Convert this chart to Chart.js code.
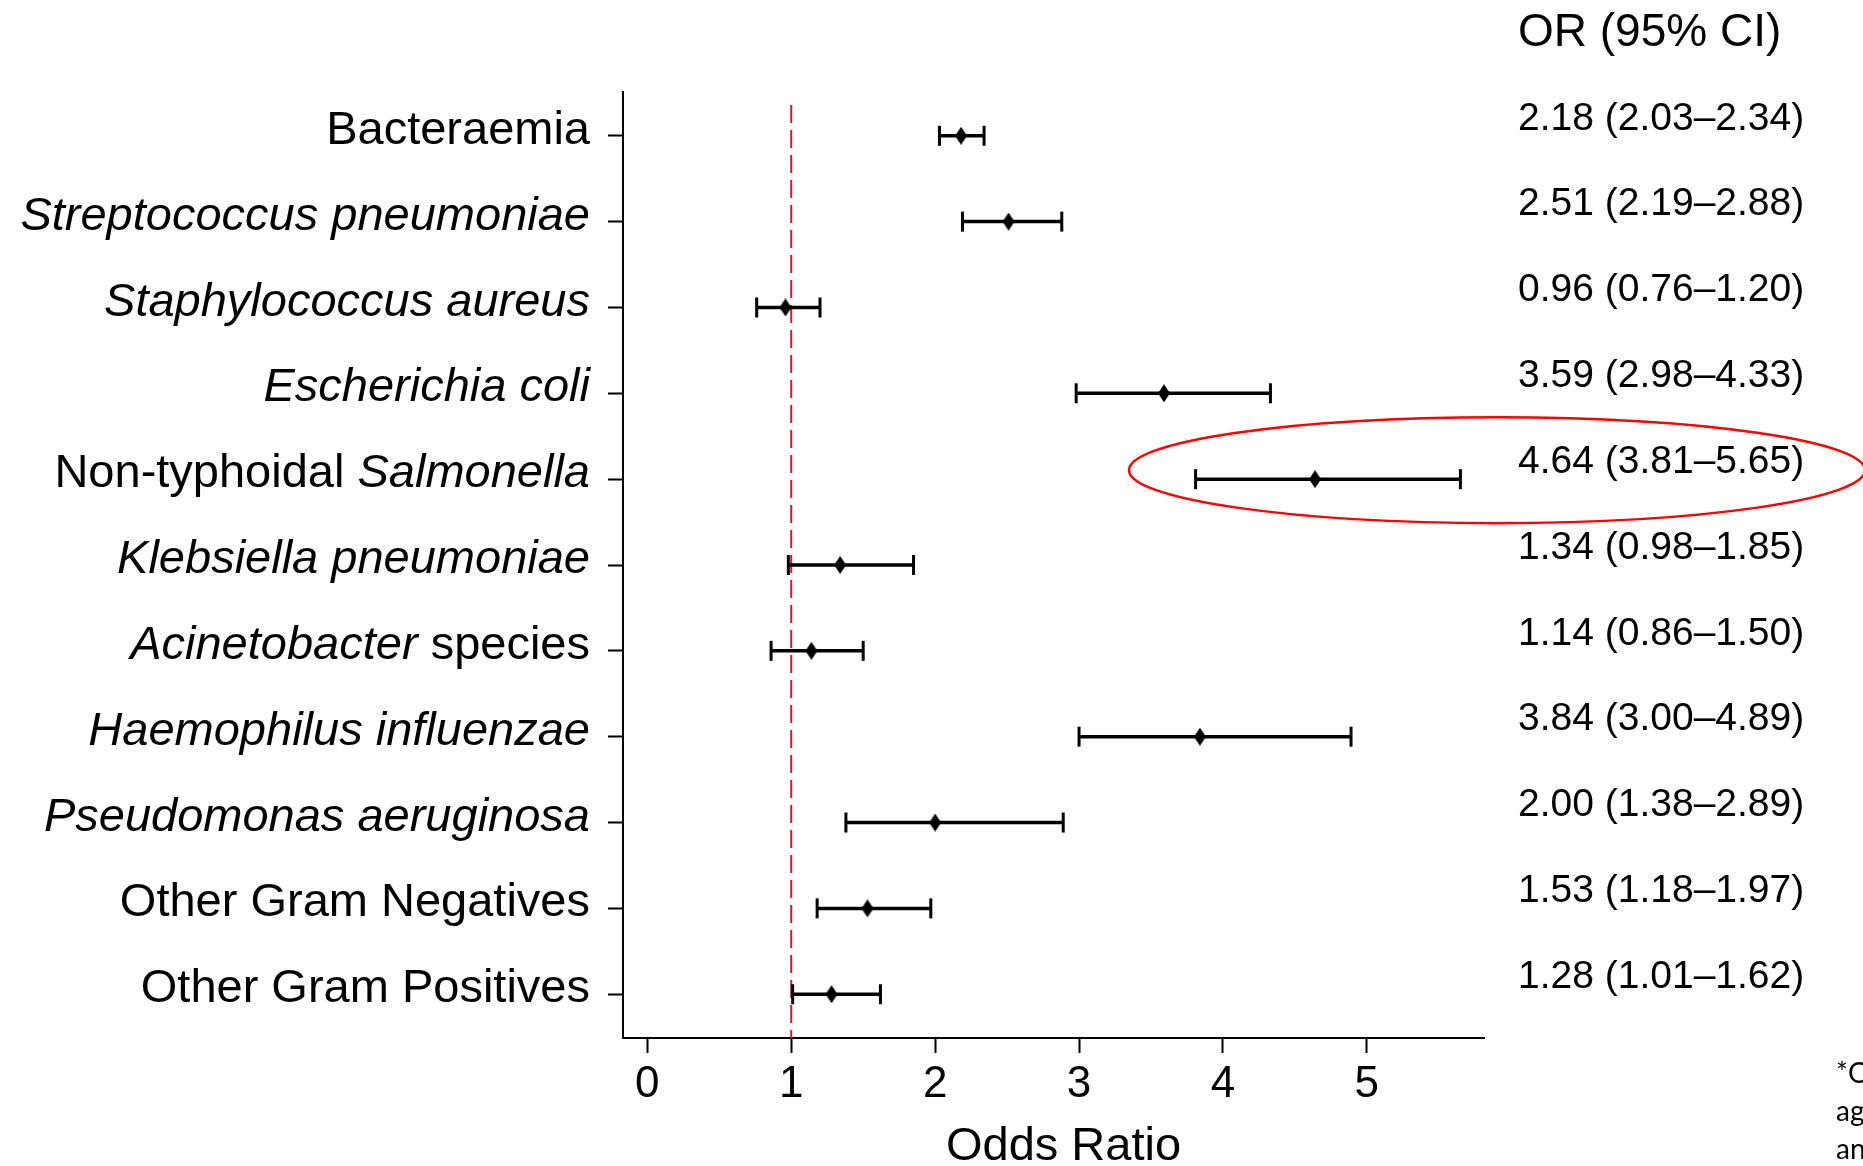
<!DOCTYPE html>
<html>
<head>
<meta charset="utf-8">
<script src="https://cdn.jsdelivr.net/npm/chart.js@4.4.0/dist/chart.umd.min.js"></script>
<style>
  html, body { margin: 0; padding: 0; background: #ffffff; overflow: hidden; }
  #wrap { width: 1863px; height: 1166px; position: relative; }
</style>
</head>
<body>
<div id="wrap"><canvas id="forest" width="1863" height="1166"></canvas></div>
<script>
// Pathogen groups; text between asterisks is set in italics
const categories = [
  'Bacteraemia',
  '*Streptococcus pneumoniae*',
  '*Staphylococcus aureus*',
  '*Escherichia coli*',
  'Non-typhoidal *Salmonella*',
  '*Klebsiella pneumoniae*',
  '*Acinetobacter* species',
  '*Haemophilus influenzae*',
  '*Pseudomonas aeruginosa*',
  'Other Gram Negatives',
  'Other Gram Positives'
];
const oddsRatio = [2.18, 2.51, 0.96, 3.59, 4.64, 1.34, 1.14, 3.84, 2.00, 1.53, 1.28];
const ciLower   = [2.03, 2.19, 0.76, 2.98, 3.81, 0.98, 0.86, 3.00, 1.38, 1.18, 1.01];
const ciUpper   = [2.34, 2.88, 1.20, 4.33, 5.65, 1.85, 1.50, 4.89, 2.89, 1.97, 1.62];
const xTicks = [0, 1, 2, 3, 4, 5];
const referenceOR = 1;
const highlightRow = 4;
const columnHeader = 'OR (95% CI)';
const axisTitle = 'Odds Ratio';
const footnoteLines = ['*Odds ratios adjusted for', 'age, sex, year', 'and site'];

const FONT = '"Liberation Sans", Arial, Helvetica, sans-serif';

// Diamond marker for the point estimates (taller than wide)
const diamond = document.createElement('canvas');
diamond.width = 12;
diamond.height = 18;
(function () {
  const g = diamond.getContext('2d');
  g.fillStyle = '#000000';
  g.beginPath();
  g.moveTo(6, 0);
  g.lineTo(12, 9);
  g.lineTo(6, 18);
  g.lineTo(0, 9);
  g.closePath();
  g.fill();
})();

// Confidence-interval segments, separated by gaps
const whiskers = [];
categories.forEach((_, i) => {
  whiskers.push({ x: ciLower[i], y: i }, { x: ciUpper[i], y: i }, { x: ciUpper[i], y: null });
});
const caps = [];
categories.forEach((_, i) => {
  caps.push({ x: ciLower[i], y: i }, { x: ciUpper[i], y: i });
});
const estimates = oddsRatio.map((v, i) => ({ x: v, y: i }));

function fmt(v) { return v.toFixed(2); }
const orLabels = oddsRatio.map((v, i) => `${fmt(v)} (${fmt(ciLower[i])}\u2013${fmt(ciUpper[i])})`);

function segments(label) {
  const parts = label.split('*');
  return parts.map((t, k) => ({ text: t, italic: k % 2 === 1 })).filter(p => p.text.length);
}

// Category names on the left, allowing mixed italic / upright text
const categoryLabels = {
  id: 'categoryLabels',
  afterDraw(chart) {
    const { ctx, scales: { y } } = chart;
    const rightEdge = y.right - 33;
    ctx.save();
    ctx.fillStyle = '#000000';
    ctx.textBaseline = 'middle';
    ctx.textAlign = 'left';
    categories.forEach((label, i) => {
      const segs = segments(label);
      const py = y.getPixelForValue(i) - 5;
      let total = 0;
      segs.forEach(s => {
        ctx.font = `${s.italic ? 'italic ' : ''}47px ${FONT}`;
        s.w = ctx.measureText(s.text).width;
        total += s.w;
      });
      let px = rightEdge - total;
      segs.forEach(s => {
        ctx.font = `${s.italic ? 'italic ' : ''}47px ${FONT}`;
        ctx.fillText(s.text, px, py);
        px += s.w;
      });
    });
    ctx.restore();
  }
};

// OR (95% CI) column on the right
const orColumn = {
  id: 'orColumn',
  afterDraw(chart) {
    const { ctx, scales: { y } } = chart;
    const left = 1518;
    ctx.save();
    ctx.fillStyle = '#000000';
    ctx.textAlign = 'left';
    ctx.textBaseline = 'middle';
    ctx.font = `46px ${FONT}`;
    ctx.fillText(columnHeader, left, 33);
    ctx.font = `39px ${FONT}`;
    orLabels.forEach((t, i) => {
      ctx.fillText(t, left, y.getPixelForValue(i) - 17);
    });
    ctx.restore();
  }
};

// Axis title under the odds-ratio scale
const axisTitlePlugin = {
  id: 'axisTitle',
  afterDraw(chart) {
    const { ctx, scales: { x } } = chart;
    ctx.save();
    ctx.fillStyle = '#000000';
    ctx.textAlign = 'center';
    ctx.textBaseline = 'middle';
    ctx.font = `47px ${FONT}`;
    ctx.fillText(axisTitle, (x.left + x.right) / 2 + 10, x.bottom - 19);
    ctx.restore();
  }
};

// Red ellipse highlighting one row and its estimate
const highlight = {
  id: 'highlight',
  afterDraw(chart) {
    const { ctx, scales: { y } } = chart;
    const cy = y.getPixelForValue(highlightRow) - 9;
    ctx.save();
    ctx.strokeStyle = '#ff0000';
    ctx.lineWidth = 2.5;
    ctx.beginPath();
    ctx.ellipse(1497, cy, 368, 53, 0, 0, Math.PI * 2);
    ctx.stroke();
    ctx.restore();
  }
};

// Footnote in the lower-right corner
const footnote = {
  id: 'footnote',
  afterDraw(chart) {
    const { ctx } = chart;
    ctx.save();
    ctx.fillStyle = '#000000';
    ctx.textAlign = 'left';
    ctx.textBaseline = 'middle';
    ctx.font = `28px Lato, "Open Sans", sans-serif`;
    footnoteLines.forEach((t, i) => ctx.fillText(t, 1836, 1074 + i * 38));
    ctx.restore();
  }
};

new Chart(document.getElementById('forest'), {
  type: 'line',
  data: {
    datasets: [
      {
        label: 'No effect',
        data: [{ x: referenceOR, y: -0.36 }, { x: referenceOR, y: 10.51 }],
        borderColor: '#c41e3a',
        borderWidth: 2,
        borderDash: [18, 7],
        pointRadius: 0,
        order: 3
      },
      {
        label: '95% CI',
        data: whiskers,
        borderColor: '#000000',
        borderWidth: 3.5,
        pointRadius: 0,
        spanGaps: false,
        order: 2
      },
      {
        label: 'CI limits',
        data: caps,
        showLine: false,
        pointStyle: 'line',
        rotation: 90,
        pointRadius: 10,
        pointBorderWidth: 3,
        pointBorderColor: '#000000',
        order: 1
      },
      {
        label: 'Odds ratio',
        data: estimates,
        showLine: false,
        pointStyle: diamond,
        pointRadius: 9,
        order: 0
      }
    ]
  },
  options: {
    responsive: false,
    devicePixelRatio: 1,
    animation: false,
    layout: { padding: { top: 92, right: 379, bottom: 0, left: 0 } },
    plugins: { legend: { display: false }, tooltip: { enabled: false } },
    scales: {
      x: {
        type: 'linear',
        min: -0.169,
        max: 5.814,
        afterBuildTicks: s => { s.ticks = xTicks.map(v => ({ value: v })); },
        afterFit: s => { s.height = 128; },
        border: { display: true, color: '#000000', width: 2 },
        grid: { drawOnChartArea: false, drawTicks: true, tickLength: 15, tickWidth: 2, tickColor: '#000000' },
        ticks: { color: '#000000', font: { family: FONT, size: 44 }, padding: 5, maxRotation: 0 },
        title: { display: false }
      },
      y: {
        type: 'linear',
        reverse: true,
        min: -0.51,
        max: 10.51,
        afterBuildTicks: s => { s.ticks = categories.map((_, i) => ({ value: i })); },
        afterFit: s => { s.width = 623; },
        border: { display: true, color: '#000000', width: 2 },
        grid: { drawOnChartArea: false, drawTicks: true, tickLength: 15, tickWidth: 2, tickColor: '#000000' },
        ticks: { display: false }
      }
    }
  },
  plugins: [categoryLabels, orColumn, axisTitlePlugin, highlight, footnote]
});
</script>
</body>
</html>
